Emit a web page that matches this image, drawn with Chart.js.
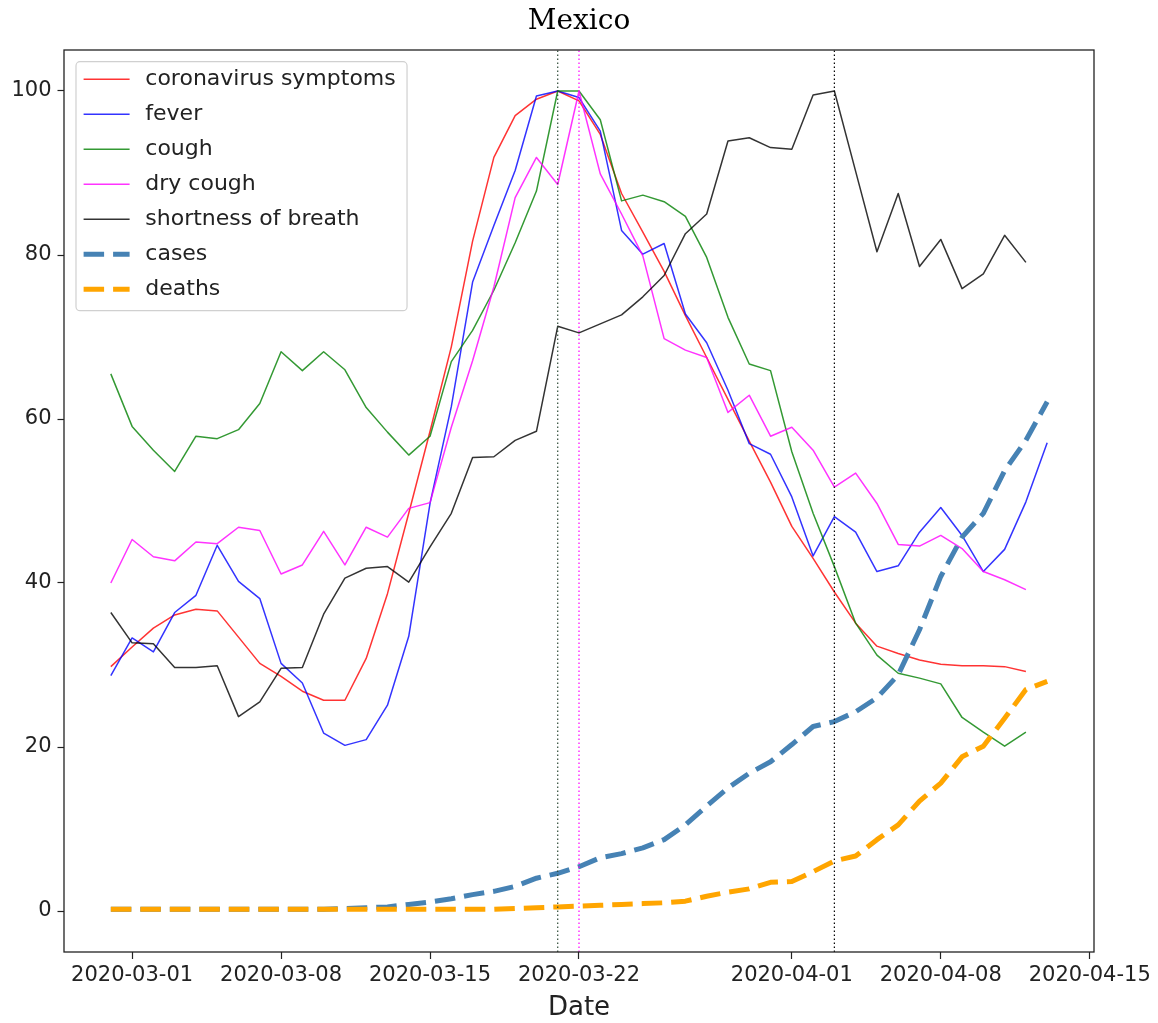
<!DOCTYPE html>
<html>
<head>
<meta charset="UTF-8">
<title>Mexico</title>
<script src="https://cdn.jsdelivr.net/npm/chart.js"></script>
<style>
	html, body { margin: 0; padding: 0; background: #fff; }
</style>
</head>
<body>
	<canvas id="lineChart" width="1158" height="1023"></canvas>

	<script>
		// one value per day, starting 2020-02-29
		const dates = [
			'2020-02-29', '2020-03-01', '2020-03-02', '2020-03-03', '2020-03-04', '2020-03-05',
			'2020-03-06', '2020-03-07', '2020-03-08', '2020-03-09', '2020-03-10', '2020-03-11',
			'2020-03-12', '2020-03-13', '2020-03-14', '2020-03-15', '2020-03-16', '2020-03-17',
			'2020-03-18', '2020-03-19', '2020-03-20', '2020-03-21', '2020-03-22', '2020-03-23',
			'2020-03-24', '2020-03-25', '2020-03-26', '2020-03-27', '2020-03-28', '2020-03-29',
			'2020-03-30', '2020-03-31', '2020-04-01', '2020-04-02', '2020-04-03', '2020-04-04',
			'2020-04-05', '2020-04-06', '2020-04-07', '2020-04-08', '2020-04-09', '2020-04-10',
			'2020-04-11', '2020-04-12', '2020-04-13'
		];

		// search interest (0-100), up to 04-12
		const symptoms = [29.8, 32.2, 34.5, 36.1, 36.8, 36.6, 33.4, 30.2, 28.6, 26.8, 25.7, 25.7,
			30.8, 38.7, 48.5, 58.5, 68.8, 81.7, 91.9, 97.0, 99.0, 100, 98.8, 94.7,
			87.5, 82.8, 78.0, 72.6, 67.5, 62.4, 57.3, 52.3, 46.9, 43.0, 38.9, 35.1,
			32.3, 31.4, 30.6, 30.1, 29.9, 29.9, 29.8, 29.2];
		// fever goes one day further (04-13)
		const fever = [28.7, 33.3, 31.6, 36.4, 38.5, 44.6, 40.2, 38.1, 30.2, 27.8, 21.7, 20.2,
			20.9, 25.1, 33.5, 49.7, 61.5, 76.7, 83.6, 90.3, 99.4, 100, 99.2, 95.1,
			83.0, 80.1, 81.4, 72.8, 69.3, 63.5, 57.0, 55.7, 50.5, 43.3, 48.1, 46.2,
			41.4, 42.1, 46.2, 49.2, 45.8, 41.4, 44.1, 49.9, 57.1];
		const cough = [65.5, 59.1, 56.2, 53.6, 57.9, 57.6, 58.7, 61.9, 68.2, 65.9, 68.2, 66.0,
			61.4, 58.4, 55.6, 57.9, 67.0, 70.8, 75.7, 81.5, 87.8, 100, 100, 96.5,
			86.6, 87.3, 86.5, 84.7, 79.7, 72.4, 66.7, 65.9, 56.0, 48.5, 42.0, 35.1,
			31.2, 29.0, 28.4, 27.7, 23.6, 21.8, 20.1, 21.8];
		const dryCough = [40.0, 45.3, 43.2, 42.7, 45.0, 44.8, 46.8, 46.4, 41.1, 42.2, 46.3, 42.2,
			46.8, 45.6, 49.1, 49.8, 59.0, 67.1, 76.1, 87.0, 91.9, 88.6, 100, 89.9,
			85.0, 79.9, 69.8, 68.4, 67.5, 60.8, 62.9, 57.9, 59.0, 56.2, 51.7, 53.4,
			49.7, 44.7, 44.5, 45.8, 44.2, 41.4, 40.4, 39.2];
		const breath = [36.4, 32.7, 32.6, 29.7, 29.7, 29.9, 23.7, 25.5, 29.6, 29.7, 36.2, 40.6,
			41.8, 42.0, 40.1, 44.4, 48.5, 55.3, 55.4, 57.4, 58.5, 71.3, 70.5, 71.6,
			72.7, 74.9, 77.5, 82.6, 85.0, 93.9, 94.3, 93.1, 92.9, 99.5, 100, 90.2,
			80.4, 87.5, 78.6, 81.9, 75.9, 77.7, 82.4, 79.1];

		// cumulative cases / deaths scaled to the same 0-100 range, up to 04-13
		const cases = [0.2, 0.2, 0.2, 0.2, 0.2, 0.2, 0.2, 0.2, 0.2, 0.2, 0.2, 0.3,
			0.4, 0.5, 0.8, 1.1, 1.5, 2.0, 2.4, 3.0, 4.0, 4.6, 5.4, 6.5,
			7.0, 7.7, 8.7, 10.5, 12.8, 15.0, 16.8, 18.2, 20.3, 22.5, 23.1, 24.3,
			26.0, 28.8, 34.3, 40.8, 45.6, 48.5, 53.7, 57.4, 62.1];
		const deaths = [0.2, 0.2, 0.2, 0.2, 0.2, 0.2, 0.2, 0.2, 0.2, 0.2, 0.2, 0.2,
			0.2, 0.2, 0.2, 0.2, 0.2, 0.2, 0.2, 0.3, 0.4, 0.5, 0.6, 0.7,
			0.8, 0.9, 1.0, 1.2, 1.8, 2.3, 2.7, 3.5, 3.6, 4.8, 6.1, 6.7,
			8.7, 10.5, 13.4, 15.6, 18.8, 20.1, 23.5, 27.0, 28.0];

		// dates where a search term peaks (dotted vertical lines)
		const peakDates = ['2020-03-21', '2020-03-22', '2020-04-03'];

		const xTickLabels = ['2020-03-01', '2020-03-08', '2020-03-15', '2020-03-22',
			'2020-04-01', '2020-04-08', '2020-04-15'];
		const yTicks = [0, 20, 40, 60, 80, 100];

		// 날짜 문자열 -> 첫 날부터의 일수
		const day0 = Date.parse(dates[0]);
		function toDay(s){
			return (Date.parse(s) - day0) / 86400000;
		}
		function series(values){
			return values.map(function(v, i){ return {x: toDay(dates[i]), y: v}; });
		}

		// matplotlib style 5% margin on the x range
		const span = toDay(dates[dates.length - 1]);
		const xMin = -0.05 * span;
		const xMax = span * 1.05;

		const peakColors = ['#2c4a36', '#ff00ff', '#000000'];

		const lineSets = [
			{label: 'coronavirus symptoms', data: series(symptoms), borderColor: 'rgba(255,0,0,0.8)', borderWidth: 1.5, order: 7},
			{label: 'fever', data: series(fever), borderColor: 'rgba(0,0,255,0.8)', borderWidth: 1.5, order: 6},
			{label: 'cough', data: series(cough), borderColor: 'rgba(0,128,0,0.8)', borderWidth: 1.5, order: 5},
			{label: 'dry cough', data: series(dryCough), borderColor: 'rgba(255,0,255,0.8)', borderWidth: 1.5, order: 4},
			{label: 'shortness of breath', data: series(breath), borderColor: 'rgba(0,0,0,0.8)', borderWidth: 1.5, order: 3},
			{label: 'cases', data: series(cases), borderColor: '#4682b4', borderWidth: 5, borderDash: [20.5, 9], order: 2},
			{label: 'deaths', data: series(deaths), borderColor: '#ffa500', borderWidth: 5, borderDash: [20.5, 9], order: 1}
		];
		const peakSets = peakDates.map(function(d, k){
			return {
				label: '', isPeak: true,
				data: [{x: toDay(d), y: -5}, {x: toDay(d), y: 105}],
				borderColor: peakColors[k], borderWidth: 1.2, borderDash: [1.5, 2.5], order: 0
			};
		});

		// 범례 (plot 안쪽 왼쪽 위, 둥근 테두리)
		const legendBox = {
			id: 'legendBox',
			afterDatasetsDraw(chart){
				const ctx = chart.ctx;
				const area = chart.chartArea;
				const items = chart.data.datasets.filter(function(d){ return !d.isPeak; });
				ctx.save();
				ctx.font = '22px "DejaVu Sans"';
				let maxW = 0;
				items.forEach(function(d){ maxW = Math.max(maxW, ctx.measureText(d.label).width); });
				const left = area.left + 12;
				const top = area.top + 11.7;
				const w = 69.3 + maxW + 11.3;
				const h = 17.6 + 35 * (items.length - 1) + 21.4;
				ctx.beginPath();
				ctx.roundRect(left, top, w, h, 4);
				ctx.fillStyle = 'rgba(255,255,255,0.8)';
				ctx.fill();
				ctx.lineWidth = 1.2;
				ctx.strokeStyle = '#d0d0d0';
				ctx.stroke();
				items.forEach(function(d, i){
					const y = top + 17.6 + 35 * i;
					ctx.beginPath();
					ctx.setLineDash(d.borderDash || []);
					ctx.lineWidth = d.borderWidth;
					ctx.strokeStyle = d.borderColor;
					ctx.moveTo(left + 7.6, y);
					ctx.lineTo(left + 53.6, y);
					ctx.stroke();
					ctx.setLineDash([]);
					ctx.fillStyle = '#222';
					ctx.textBaseline = 'middle';
					ctx.textAlign = 'left';
					ctx.fillText(d.label, left + 69.3, y);
				});
				ctx.restore();
			}
		};

		// 네 변 테두리
		const frame = {
			id: 'frame',
			afterDraw(chart){
				const a = chart.chartArea;
				const ctx = chart.ctx;
				ctx.save();
				ctx.strokeStyle = '#222';
				ctx.lineWidth = 1.3;
				ctx.strokeRect(a.left, a.top, a.right - a.left, a.bottom - a.top);
				ctx.restore();
			}
		};

		Chart.defaults.font.family = '"DejaVu Sans"';

		const ctx = document.getElementById('lineChart').getContext('2d');
		const lineChart = new Chart(ctx, {
			type: 'line',
			data: { datasets: lineSets.concat(peakSets) },
			options: {
				responsive: false,
				devicePixelRatio: 1,
				animation: false,
				events: [],
				layout: { padding: 0 },
				elements: {
					line: { tension: 0, fill: false, borderJoinStyle: 'round' },
					point: { radius: 0 }
				},
				scales: {
					x: {
						type: 'linear',
						min: xMin,
						max: xMax,
						afterBuildTicks: function(s){
							s.ticks = xTickLabels.map(function(t){ return {value: toDay(t)}; });
						},
						afterFit: function(s){ s.height = 71; },
						ticks: {
							autoSkip: false, maxRotation: 0, minRotation: 0, padding: 4,
							color: '#222', font: { size: 21 },
							callback: function(v, i){ return xTickLabels[i]; }
						},
						grid: { drawOnChartArea: false, drawTicks: true, tickLength: 7, tickWidth: 1.2, tickColor: '#222' },
						border: { display: false },
						title: {
							display: true, text: 'Date', color: '#222',
							font: { size: 26, lineHeight: 1 },
							padding: { top: 0, bottom: 2 }
						}
					},
					y: {
						type: 'linear',
						min: -5,
						max: 105,
						afterBuildTicks: function(s){
							s.ticks = yTicks.map(function(v){ return {value: v}; });
						},
						afterFit: function(s){ s.width = 64; },
						ticks: { padding: 6, color: '#222', font: { size: 21 } },
						grid: { drawOnChartArea: false, drawTicks: true, tickLength: 6.5, tickWidth: 1.2, tickColor: '#222' },
						border: { display: false }
					},
					// empty right-hand margin so the title centres over the plot
					yRight: {
						type: 'linear',
						position: 'right',
						afterFit: function(s){ s.width = 64; },
						ticks: { display: false },
						grid: { display: false },
						border: { display: false }
					}
				},
				plugins: {
					legend: { display: false },
					tooltip: { enabled: false },
					title: {
						display: true,
						text: 'Mexico',
						color: '#000',
						font: { family: '"DejaVu Serif"', size: 28, weight: 'normal', lineHeight: 1.2 },
						padding: { top: 5, bottom: 11.4 }
					}
				}
			},
			plugins: [legendBox, frame]
		});
	</script>
</body>
</html>
